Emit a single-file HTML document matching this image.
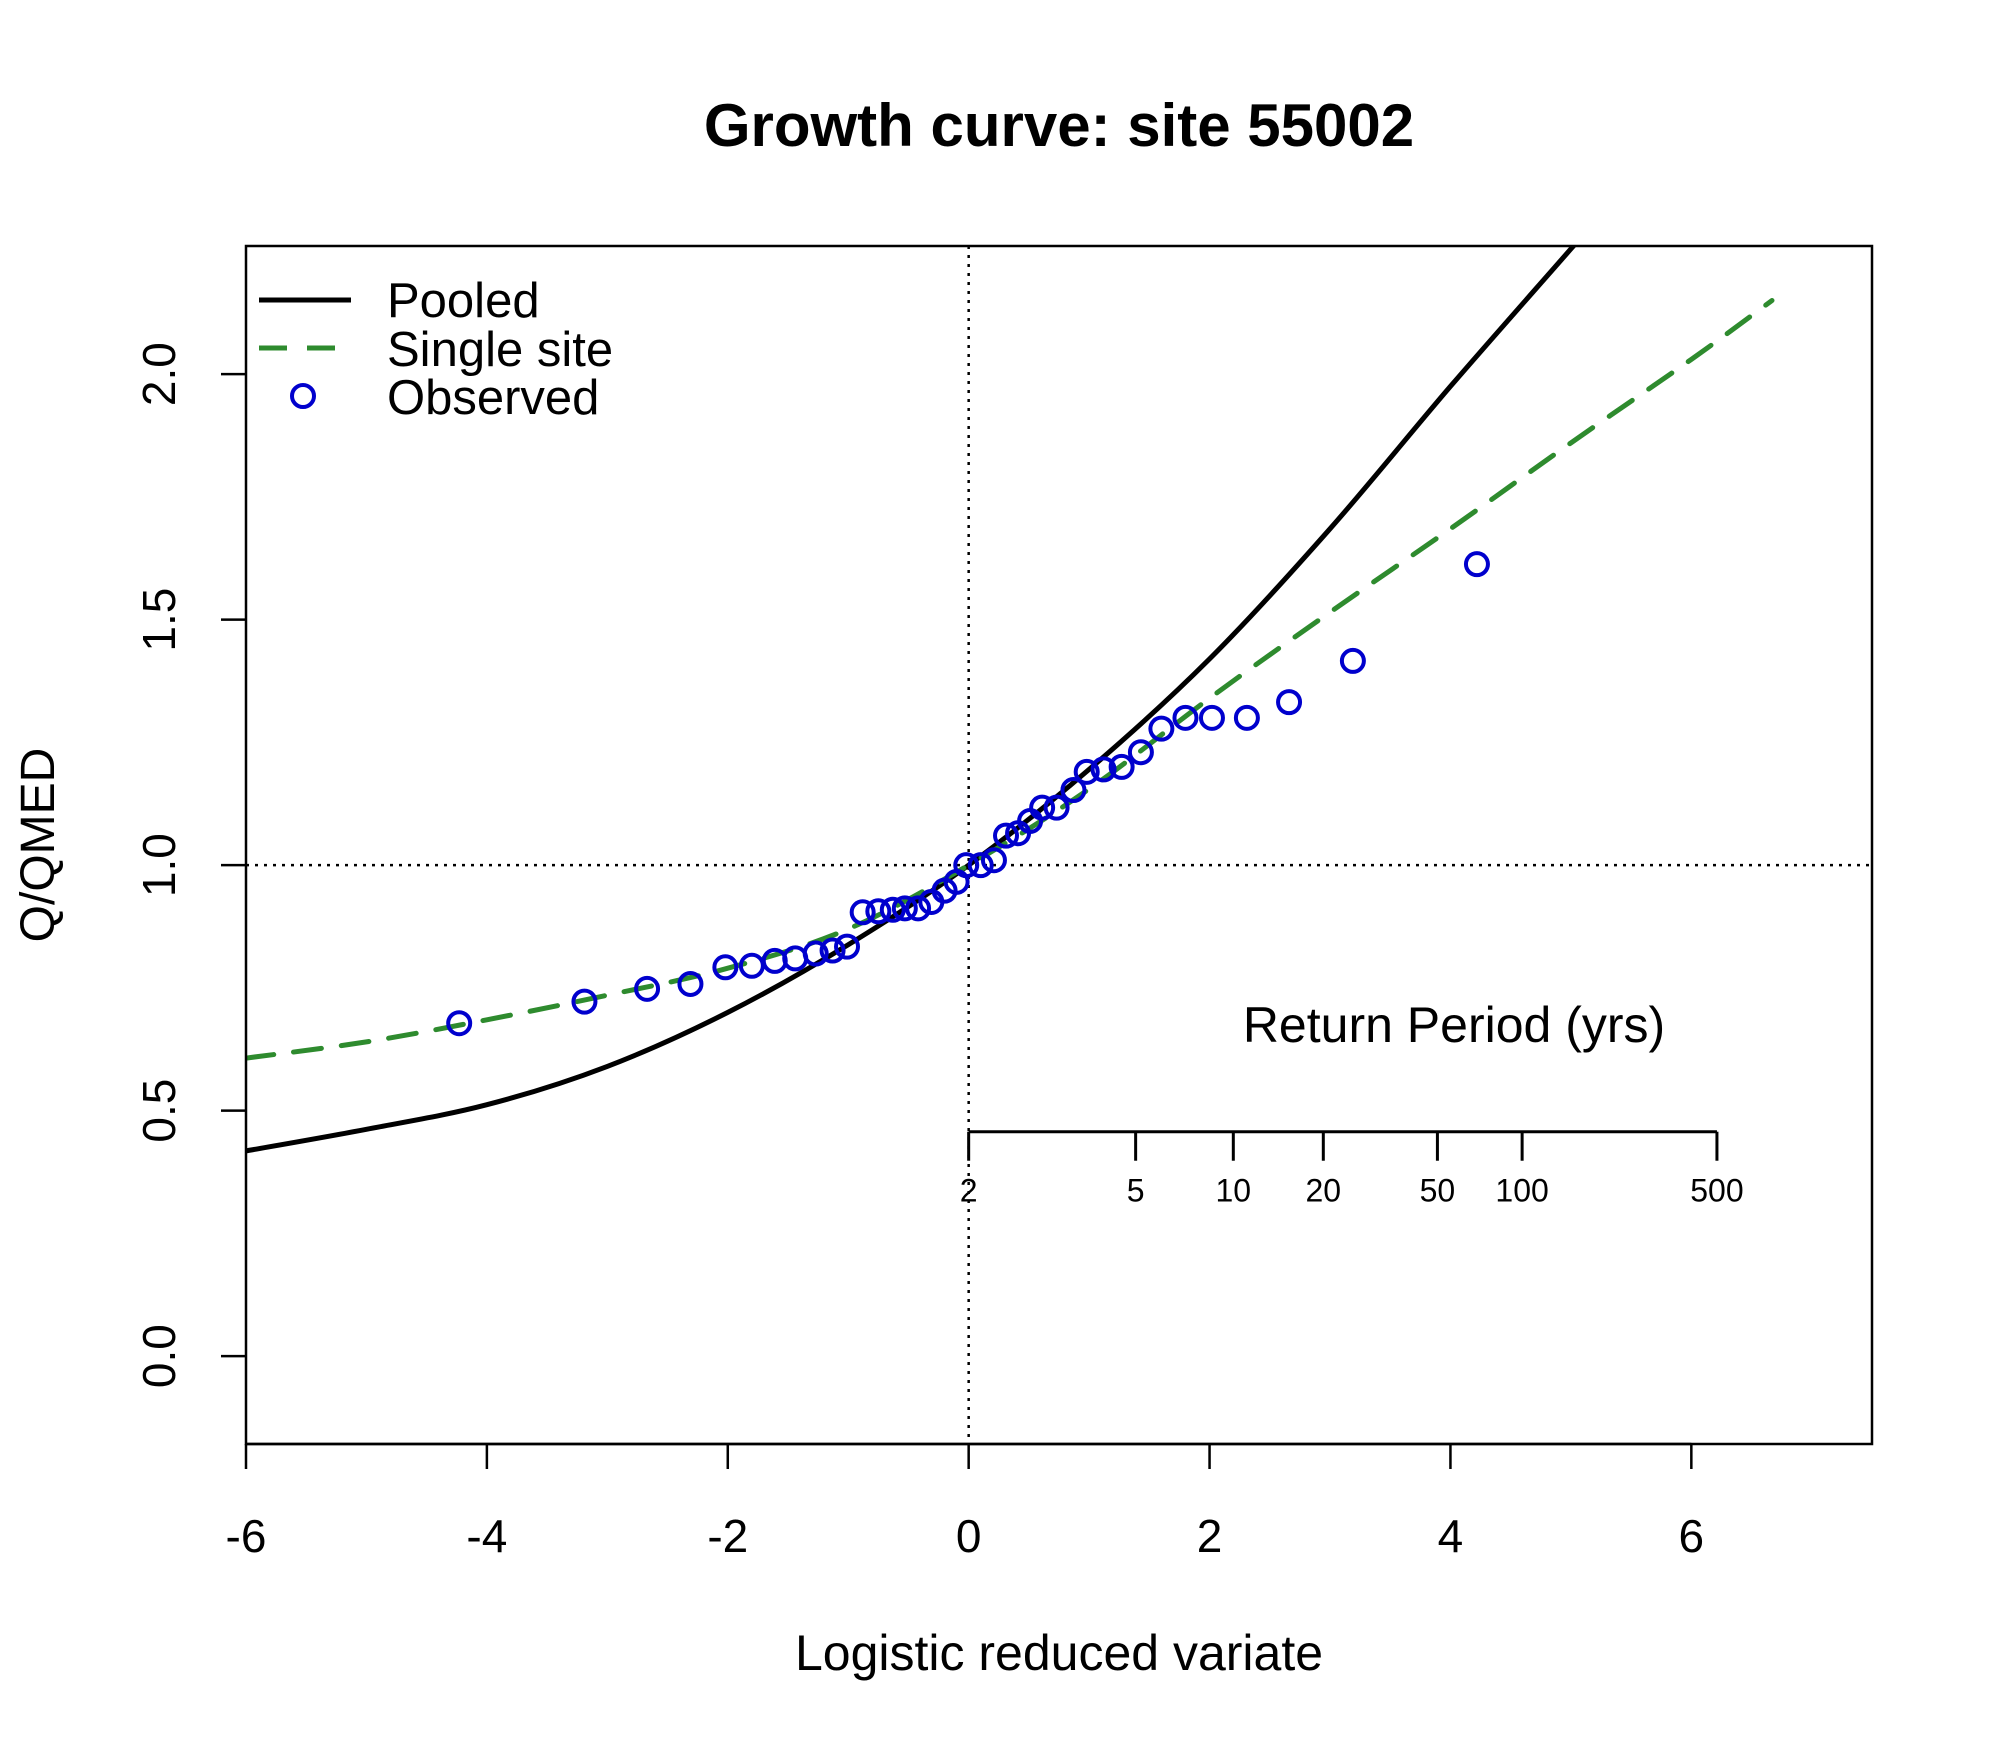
<!DOCTYPE html>
<html><head><meta charset="utf-8"><style>
html,body{margin:0;padding:0;background:#fff}
svg{display:block}
text{font-family:"Liberation Sans",Arial,sans-serif}
</style></head><body>
<svg id="chart" width="2000" height="1750" viewBox="0 0 2000 1750" xmlns="http://www.w3.org/2000/svg">
<rect width="2000" height="1750" fill="#fff"/>
<text x="1059" y="146" font-size="60" font-weight="bold" text-anchor="middle">Growth curve: site 55002</text>
<g id="plot"></g>
</svg>
<script>
const xTicks=[-6,-4,-2,0,2,4,6];
const yTicks=[0.0,0.5,1.0,1.5,2.0];
const yTickLabels=["0.0","0.5","1.0","1.5","2.0"];
const pooledX=[-6,-5,-4,-3,-2,-1,0,1,2,3,4,5,5.3];
const pooledY=[0.418,0.462,0.512,0.59,0.70,0.838,1.0,1.195,1.42,1.685,1.975,2.255,2.34];
const singleX=[-6,-5,-4,-3,-2,-1,0,1,2,3,4,5,6,6.67];
const singleY=[0.607,0.64,0.685,0.735,0.79,0.87,1.0,1.155,1.34,1.515,1.685,1.86,2.03,2.15];
const obsX=[-4.23,-3.19,-2.67,-2.31,-2.02,-1.80,-1.61,-1.44,-1.27,-1.13,-1.01,-0.88,-0.75,-0.63,-0.53,-0.42,-0.31,-0.20,-0.10,-0.02,0.10,0.21,0.31,0.41,0.51,0.61,0.73,0.87,0.98,1.12,1.27,1.43,1.60,1.80,2.02,2.31,2.66,3.19,4.22];
const obsY=[0.678,0.722,0.748,0.758,0.792,0.795,0.805,0.81,0.82,0.826,0.834,0.904,0.906,0.909,0.912,0.912,0.925,0.948,0.966,1.0,1.0,1.01,1.06,1.065,1.09,1.117,1.117,1.153,1.19,1.195,1.2,1.23,1.278,1.30,1.30,1.30,1.332,1.416,1.613];
const rpTicks=[2,5,10,20,50,100,500];
const rpLabels=["2","5","10","20","50","100","500"];
const rpAxisY=0.457;

const L=246,R=1872,T=246,B=1444;
const xmin=-6,xmax=7.5,ymin=-0.179,ymax=2.261;
const sx=v=>L+(v-xmin)/(xmax-xmin)*(R-L);
const sy=v=>B-(v-ymin)/(ymax-ymin)*(B-T);
const NS="http://www.w3.org/2000/svg";
const g=document.getElementById('plot');
function mk(tag,attrs,parent){const e=document.createElementNS(NS,tag);for(const k in attrs)e.setAttribute(k,attrs[k]);(parent||g).appendChild(e);return e;}

const defs=mk('defs',{});
const cp=mk('clipPath',{id:'clip'},defs);
mk('rect',{x:L,y:T,width:R-L,height:B-T},cp);

let e=mk('line',{x1:L,x2:R,y1:sy(1),y2:sy(1),stroke:'#000','stroke-width':2.5,'stroke-dasharray':'3 6'});


e=mk('line',{x1:sx(0),x2:sx(0),y1:T,y2:B,stroke:'#000','stroke-width':2.5,'stroke-dasharray':'3 6'});



const clipG=mk('g',{'clip-path':'url(#clip)'});
function smoothPath(xs,ys){
  const p=xs.map((x,i)=>[sx(x),sy(ys[i])]);
  let d='M'+p[0][0].toFixed(1)+' '+p[0][1].toFixed(1);
  for(let i=0;i<p.length-1;i++){
    const p0=p[i-1]||p[i],p1=p[i],p2=p[i+1],p3=p[i+2]||p[i+1];
    const c1=[p1[0]+(p2[0]-p0[0])/6,p1[1]+(p2[1]-p0[1])/6];
    const c2=[p2[0]-(p3[0]-p1[0])/6,p2[1]-(p3[1]-p1[1])/6];
    d+=` C${c1[0].toFixed(1)} ${c1[1].toFixed(1)} ${c2[0].toFixed(1)} ${c2[1].toFixed(1)} ${p2[0].toFixed(1)} ${p2[1].toFixed(1)}`;
  }
  return d;
}
e=mk('path',{d:smoothPath(pooledX,pooledY),fill:'none',stroke:'#000','stroke-width':5,'stroke-linejoin':'round'},clipG);


e=mk('path',{d:smoothPath(singleX,singleY),fill:'none',stroke:'#2e8b2e','stroke-width':5,'stroke-dasharray':'28 20','stroke-linecap':'round'},clipG);



obsX.forEach((x,i)=>{
  const c=mk('circle',{cx:sx(x),cy:sy(obsY[i]),r:11,fill:'none',stroke:'#0000cd','stroke-width':4});
  
  
});

e=mk('rect',{x:L,y:T,width:R-L,height:B-T,fill:'none',stroke:'#000','stroke-width':2.5});



mk('line',{x1:sx(xTicks[0]),x2:sx(xTicks[xTicks.length-1]),y1:B,y2:B,stroke:'#000','stroke-width':2.5});
xTicks.forEach(t=>{
  mk('line',{x1:sx(t),x2:sx(t),y1:B,y2:B+25,stroke:'#000','stroke-width':2.5});
  const tx=mk('text',{x:sx(t),y:1552,'font-size':46,'text-anchor':'middle'});
  tx.textContent=String(t);
  
  
});
yTicks.forEach((t,i)=>{
  mk('line',{x1:L,x2:L-25,y1:sy(t),y2:sy(t),stroke:'#000','stroke-width':2.5});
  const tx=mk('text',{x:0,y:0,'font-size':46,'text-anchor':'middle',transform:`translate(175 ${sy(t)}) rotate(-90)`});
  tx.textContent=yTickLabels[i];
  
  
});
e=mk('text',{x:1059,y:1670,'font-size':50,'text-anchor':'middle'});e.textContent='Logistic reduced variate';


e=mk('text',{x:0,y:0,'font-size':48,'text-anchor':'middle',transform:'translate(54 845) rotate(-90)'});e.textContent='Q/QMED';



const rpx=T=>sx(Math.log(T-1));
const ay=sy(rpAxisY);
mk('line',{x1:rpx(rpTicks[0]),x2:rpx(rpTicks[rpTicks.length-1]),y1:ay,y2:ay,stroke:'#000','stroke-width':3});
rpTicks.forEach((t,i)=>{
  mk('line',{x1:rpx(t),x2:rpx(t),y1:ay,y2:ay+29,stroke:'#000','stroke-width':3});
  const tx=mk('text',{x:rpx(t),y:ay+70,'font-size':32,'text-anchor':'middle'});
  tx.textContent=rpLabels[i];
  
  
});
e=mk('text',{x:1454,y:1042,'font-size':50,'text-anchor':'middle'});e.textContent='Return Period (yrs)';



const lg=mk('g',{});


mk('line',{x1:259,x2:351,y1:300,y2:300,stroke:'#000','stroke-width':5},lg);
mk('line',{x1:259,x2:351,y1:348,y2:348,stroke:'#2e8b2e','stroke-width':5,'stroke-dasharray':'28 20'},lg);
mk('circle',{cx:303,cy:396,r:11,fill:'none',stroke:'#0000cd','stroke-width':4},lg);
[['Pooled',317],['Single site',366],['Observed',414]].forEach(([s,y])=>{
  const tx=mk('text',{x:387,y:y,'font-size':49},lg);tx.textContent=s;
  
  
});
</script>
</body></html>
